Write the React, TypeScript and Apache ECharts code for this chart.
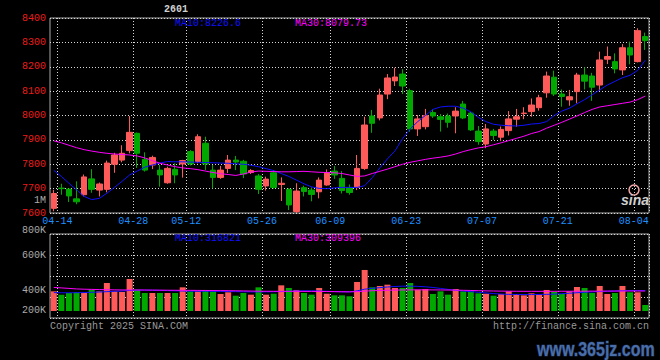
import { useEffect, useRef } from 'react';
import * as echarts from 'echarts';

const contractCode = '2601';
const periodLabel = '1M';
const copyrightText = 'Copyright 2025 SINA.COM';
const urlText = 'http://finance.sina.com.cn';
const watermarkText = 'www.365jz.com';

const dates = [
  '04-11', '04-14', '04-15', '04-16', '04-17', '04-18', '04-21', '04-22', '04-23', '04-24',
  '04-25', '04-28', '04-29', '04-30', '05-06', '05-07', '05-08', '05-09', '05-12', '05-13',
  '05-14', '05-15', '05-16', '05-19', '05-20', '05-21', '05-22', '05-23', '05-26', '05-27',
  '05-28', '05-29', '05-30', '06-03', '06-04', '06-05', '06-06', '06-09', '06-10', '06-11',
  '06-12', '06-13', '06-16', '06-17', '06-18', '06-19', '06-20', '06-23', '06-24', '06-25',
  '06-26', '06-27', '06-30', '07-01', '07-02', '07-03', '07-04', '07-07', '07-08', '07-09',
  '07-10', '07-11', '07-14', '07-15', '07-16', '07-17', '07-18', '07-21', '07-22', '07-23',
  '07-24', '07-25', '07-28', '07-29', '07-30', '07-31', '08-01', '08-04', '08-05',
];

const labelDates = ['04-14', '04-28', '05-12', '05-26', '06-09', '06-23', '07-07', '07-21', '08-04'];

const opens = [
  7619, 7702, 7698, 7658, 7675, 7740, 7694, 7697, 7800, 7817,
  7856, 7927, 7820, 7797, 7776, 7724, 7779, 7801, 7852, 7811,
  7886, 7776, 7746, 7783, 7817, 7812, 7766, 7752, 7711, 7765,
  7717, 7697, 7606, 7704, 7694, 7687, 7715, 7772, 7742, 7705,
  7705, 7783, 7998, 7990, 8088, 8142, 8170, 8102, 7945, 7954,
  8012, 7995, 7998, 7998, 8047, 8010, 7936, 7883, 7936, 7911,
  7938, 7985, 8008, 8016, 8032, 8093, 8157, 8088, 8064, 8098,
  8166, 8162, 8125, 8231, 8221, 8187, 8278, 8221, 8324,
];
const closes = [
  7680, 7700, 7670, 7646, 7748, 7697, 7719, 7805, 7838, 7845,
  7931, 7845, 7776, 7828, 7756, 7783, 7756, 7815, 7801, 7913,
  7801, 7746, 7776, 7817, 7809, 7760, 7774, 7697, 7739, 7705,
  7722, 7633, 7690, 7688, 7676, 7735, 7765, 7756, 7692, 7684,
  7783, 7961, 7968, 8084, 8154, 8158, 8121, 7945, 7986, 7999,
  7998, 7984, 7972, 8018, 7990, 7941, 7893, 7945, 7918, 7943,
  7986, 7995, 8010, 8043, 8073, 8162, 8088, 8078, 8077, 8166,
  8141, 8116, 8228, 8242, 8191, 8278, 8248, 8348, 8307,
];
const highs = [
  7695, 7720, 7700, 7730, 7758, 7780, 7725, 7815, 7847, 7878,
  7998, 7930, 7849, 7835, 7797, 7790, 7804, 7818, 7858, 7923,
  7913, 7797, 7793, 7838, 7834, 7818, 7780, 7760, 7749, 7776,
  7746, 7701, 7722, 7712, 7705, 7746, 7779, 7793, 7772, 7717,
  7838, 7995, 8023, 8110, 8170, 8196, 8190, 8110, 8002, 8027,
  8025, 8006, 8008, 8034, 8060, 8015, 7957, 7965, 7945, 7955,
  8018, 8027, 8034, 8070, 8085, 8180, 8184, 8107, 8105, 8175,
  8198, 8175, 8262, 8283, 8255, 8293, 8303, 8358, 8340,
];
const lows = [
  7607, 7675, 7645, 7636, 7668, 7683, 7668, 7685, 7765, 7808,
  7845, 7785, 7770, 7780, 7708, 7720, 7722, 7745, 7795, 7804,
  7776, 7701, 7740, 7764, 7776, 7743, 7760, 7678, 7692, 7700,
  7649, 7612, 7600, 7668, 7648, 7660, 7712, 7740, 7680, 7675,
  7694, 7777, 7929, 7980, 8067, 8121, 8088, 7934, 7916, 7943,
  7990, 7934, 7950, 7927, 7985, 7937, 7880, 7866, 7900, 7895,
  7918, 7954, 7985, 7995, 8020, 8073, 8080, 8036, 8040, 8050,
  8107, 8060, 8102, 8211, 8173, 8166, 8210, 8218, 8269,
];

const ma10 = [
  7775, 7750, 7722, 7695, 7668, 7655, 7660, 7681, 7705, 7730,
  7756, 7772, 7788, 7797, 7805, 7811, 7810, 7810, 7809, 7808,
  7807, 7806, 7805, 7804, 7802, 7800, 7796, 7790, 7782, 7774,
  7762, 7750, 7735, 7720, 7707, 7701, 7700, 7703, 7705, 7705,
  7705, 7712, 7745, 7785, 7822, 7855, 7905, 7945, 7975, 8000,
  8025, 8035, 8038, 8038, 8030, 8015, 7992, 7975, 7964, 7960,
  7958, 7957, 7960, 7965, 7967, 7975, 8000, 8018, 8030, 8048,
  8065, 8085, 8105, 8125, 8140, 8155, 8165, 8185, 8226.6,
];
const ma30 = [
  7896, 7888, 7878, 7868, 7860, 7854, 7849, 7845, 7842, 7840,
  7838, 7834, 7826, 7815, 7804, 7797, 7790, 7785, 7782, 7778,
  7772, 7766, 7761, 7758, 7754, 7760, 7768, 7772, 7771, 7770,
  7769, 7769, 7770, 7771, 7769, 7767, 7766, 7765, 7762, 7756,
  7750, 7752, 7762, 7771, 7780, 7790, 7800, 7808, 7814, 7820,
  7825, 7829, 7834, 7842, 7852, 7860, 7867, 7872, 7880, 7888,
  7897, 7906, 7915, 7926, 7934, 7948, 7960, 7972, 7985, 7998,
  8012, 8025, 8035, 8040, 8045, 8050, 8055, 8065, 8079.73,
];

const volumes = [
  305000, 253000, 279000, 290000, 279000, 330000, 305000, 434000, 305000, 295000,
  496000, 330000, 279000, 279000, 279000, 279000, 279000, 367000, 305000, 305000,
  326000, 305000, 264000, 290000, 237000, 279000, 253000, 367000, 253000, 268000,
  398000, 357000, 326000, 279000, 253000, 357000, 268000, 243000, 243000, 228000,
  450000, 636000, 367000, 388000, 408000, 357000, 357000, 434000, 330000, 341000,
  264000, 305000, 253000, 341000, 305000, 305000, 274000, 268000, 237000, 264000,
  305000, 264000, 243000, 274000, 253000, 326000, 295000, 264000, 305000, 372000,
  357000, 279000, 388000, 264000, 279000, 388000, 290000, 290000, 93000,
];
const volMa10 = [
  285000, 283000, 282000, 284000, 286000, 290000, 294000, 300000, 305000, 310000,
  318000, 322000, 324000, 322000, 320000, 316000, 312000, 310000, 308000, 306000,
  306000, 305000, 304000, 302000, 300000, 298000, 296000, 296000, 297000, 298000,
  302000, 306000, 310000, 312000, 312000, 310000, 306000, 302000, 298000, 296000,
  312000, 338000, 352000, 362000, 372000, 380000, 385000, 385000, 382000, 375000,
  365000, 350000, 335000, 320000, 310000, 300000, 290000, 280000, 270000, 262000,
  258000, 256000, 255000, 255000, 256000, 258000, 262000, 268000, 275000, 283000,
  290000, 296000, 302000, 306000, 310000, 314000, 317000, 318000, 316821,
];
const volMa30 = [
  365000, 358000, 350000, 342000, 338000, 335000, 332000, 330000, 328000, 326000,
  326000, 326000, 325000, 324000, 323000, 322000, 321000, 320000, 320000, 319000,
  318000, 317000, 316000, 315000, 313000, 311000, 309000, 307000, 306000, 305000,
  305000, 305000, 305000, 304000, 304000, 303000, 302000, 300000, 298000, 297000,
  300000, 308000, 314000, 318000, 322000, 324000, 326000, 327000, 328000, 328000,
  327000, 326000, 325000, 323000, 321000, 318000, 315000, 312000, 310000, 308000,
  307000, 306000, 305000, 305000, 305000, 305000, 305000, 306000, 306000, 307000,
  307000, 308000, 308000, 309000, 309000, 310000, 310000, 310000, 309396,
];
const volTickLabels = ['800K', '600K', '400K', '200K'];

const RED = '#ff5a5a';
const GREEN = '#00a800';
const BLUE = '#1010ff';
const MAGENTA = '#ff00ff';
const MONO = '"Liberation Mono", "DejaVu Sans Mono", monospace';

function txt(text: string, x: number, y: number, fill: string, extra: any = {}) {
  const align = extra.align || 'left';
  return {
    type: 'text',
    x,
    y,
    silent: true,
    z: 100,
    scaleX: extra.scaleX || 1,
    style: {
      text,
      fill,
      fontFamily: extra.fontFamily || MONO,
      fontSize: extra.fontSize || 10,
      fontWeight: extra.fontWeight || 'normal',
      fontStyle: extra.fontStyle || 'normal',
      stroke: extra.stroke,
      lineWidth: extra.lineWidth,
      align,
      textAlign: align,
      verticalAlign: 'middle',
      textVerticalAlign: 'middle',
    },
  };
}

export default function App() {
  const ref = useRef<HTMLDivElement>(null);
  useEffect(() => {
    document.body.style.margin = '0';
    document.body.style.background = '#000';
    const chart = echarts.init(ref.current as HTMLDivElement, null, { renderer: 'svg' });
    const showDate = (_i: number, v: string) => labelDates.indexOf(v) >= 0;
    const dotted = { color: '#d8d8d8', type: [1, 2] as any, width: 1 };
    const volUnitPx = 15500;
    const volLabelY = [230, 255.3, 290.7, 310.7];

    const option: any = {
      animation: false,
      backgroundColor: '#000',
      grid: [
        { left: 50, top: 18, width: 599, height: 195, show: true, borderColor: '#aaaaaa', borderWidth: 1, backgroundColor: 'transparent' },
        { left: 50, top: 234, width: 599, height: 84, show: true, borderColor: '#aaaaaa', borderWidth: 1, backgroundColor: 'transparent' },
      ],
      xAxis: [
        {
          type: 'category',
          gridIndex: 0,
          data: dates,
          boundaryGap: true,
          axisLine: { show: false },
          axisTick: { show: false },
          axisLabel: {
            interval: showDate,
            margin: 3,
            formatter: (v: string) => `{a|${v}}`,
            rich: { a: { color: '#1e90ff', fontFamily: MONO, fontSize: 10, padding: [0, 8, 0, 0] } },
          },
          splitLine: { show: true, interval: showDate, lineStyle: dotted },
        },
        {
          type: 'category',
          gridIndex: 1,
          data: dates,
          boundaryGap: true,
          axisLine: { show: false },
          axisTick: { show: false },
          axisLabel: { show: false },
          splitLine: { show: true, interval: showDate, lineStyle: dotted },
        },
      ],
      yAxis: [
        {
          type: 'value',
          gridIndex: 0,
          min: 7600,
          max: 8400,
          interval: 100,
          axisLine: { show: false },
          axisTick: { show: false },
          axisLabel: {
            color: '#ee1c1c',
            fontFamily: MONO,
            fontSize: 10,
            margin: 4,
            padding: [0, 0, 3, 0],
            formatter: (v: number) => String(v),
          },
          splitLine: { show: true, lineStyle: dotted },
        },
        {
          type: 'value',
          gridIndex: 1,
          min: -7 * volUnitPx,
          max: 77 * volUnitPx,
          axisLine: { show: false },
          axisTick: { show: false },
          axisLabel: { show: false },
          splitLine: { show: false },
        },
        {
          type: 'value',
          gridIndex: 1,
          min: 0,
          max: 4,
          interval: 1,
          axisLine: { show: false },
          axisTick: { show: false },
          axisLabel: { show: false },
          splitLine: { show: true, lineStyle: dotted },
        },
      ],
      series: [
        {
          type: 'candlestick',
          xAxisIndex: 0,
          yAxisIndex: 0,
          barWidth: 6,
          data: dates.map((_, i) => [opens[i], closes[i], lows[i], highs[i]]),
          itemStyle: { color: RED, color0: GREEN, borderColor: RED, borderColor0: GREEN, borderWidth: 1 },
          z: 2,
        },
        {
          type: 'line',
          xAxisIndex: 0,
          yAxisIndex: 0,
          data: ma10,
          symbol: 'none',
          lineStyle: { color: BLUE, width: 1 },
          z: 3,
        },
        {
          type: 'line',
          xAxisIndex: 0,
          yAxisIndex: 0,
          data: ma30,
          symbol: 'none',
          lineStyle: { color: MAGENTA, width: 1 },
          z: 3,
        },
        {
          type: 'bar',
          xAxisIndex: 1,
          yAxisIndex: 1,
          barWidth: 6,
          data: volumes.map((v, i) => ({ value: v, itemStyle: { color: closes[i] >= opens[i] ? RED : GREEN } })),
          z: 2,
        },
        {
          type: 'line',
          xAxisIndex: 1,
          yAxisIndex: 1,
          data: volMa10,
          symbol: 'none',
          lineStyle: { color: BLUE, width: 1 },
          z: 3,
        },
        {
          type: 'line',
          xAxisIndex: 1,
          yAxisIndex: 1,
          data: volMa30,
          symbol: 'none',
          lineStyle: { color: MAGENTA, width: 1 },
          z: 3,
        },
      ],
      graphic: {
        elements: [
          txt(contractCode, 164, 9.5, '#d0d0d0', { fontWeight: 'bold' }),
          txt(`MA10:${ma10[ma10.length - 1]}`, 175, 23.5, BLUE),
          txt(`MA30:${ma30[ma30.length - 1]}`, 295, 23.5, MAGENTA),
          txt(`MA10:${volMa10[volMa10.length - 1]}`, 175, 238.5, BLUE),
          txt(`MA30:${volMa30[volMa30.length - 1]}`, 295, 238.5, MAGENTA),
          txt(periodLabel, 46, 200.5, '#aaaaaa', { align: 'right' }),
          ...volTickLabels.map((t, k) => txt(t, 46, volLabelY[k], '#aaaaaa', { align: 'right' })),
          txt(copyrightText, 50, 326.5, '#999999'),
          txt(urlText, 649, 326.5, '#999999', { align: 'right' }),
          {
            type: 'circle',
            silent: true,
            z: 100,
            shape: { cx: 634, cy: 190, r: 5 },
            style: { fill: 'none', stroke: '#f2a6a6', lineWidth: 1.5 },
          },
          txt('sina', 621, 200, '#cfcfcf', { fontFamily: '"Liberation Sans", Arial, sans-serif', fontSize: 14, fontWeight: 'bold', fontStyle: 'italic' }),
          txt(watermarkText, 537, 349, '#4a6ea8', {
            fontFamily: '"Liberation Sans", Arial, sans-serif',
            fontSize: 20,
            fontWeight: 'bold',
            stroke: '#16264a',
            lineWidth: 1.2,
            scaleX: 0.8,
          }),
        ],
      },
    };
    chart.setOption(option);
    return () => chart.dispose();
  }, []);
  return <div ref={ref} style={{ width: 660, height: 360, background: '#000' }} />;
}
